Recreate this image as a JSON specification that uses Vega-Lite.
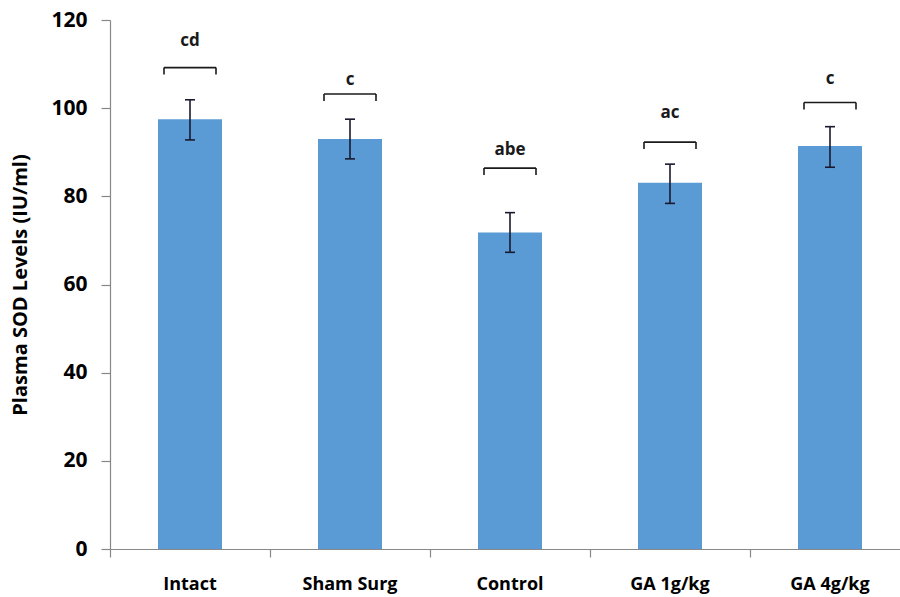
{
  "$schema": "https://vega.github.io/schema/vega-lite/v6.json",
  "width": 800,
  "height": 529,
  "autosize": "none",
  "padding": {"left": 110, "top": 20, "right": -10, "bottom": 48},
  "background": "white",
  "config": {"view": {"stroke": null}, "font": "Open Sans"},
  "data": {"values": [
    {"group": "Intact", "mean": 97.5, "lo": 92.8, "hi": 101.9, "bracket": 109.2, "label": "cd", "labelY": 115.3},
    {"group": "Sham Surg", "mean": 93.0, "lo": 88.5, "hi": 97.5, "bracket": 103.2, "label": "c", "labelY": 106.4},
    {"group": "Control", "mean": 71.8, "lo": 67.3, "hi": 76.3, "bracket": 86.4, "label": "abe", "labelY": 90.5},
    {"group": "GA 1g/kg", "mean": 83.1, "lo": 78.4, "hi": 87.3, "bracket": 92.3, "label": "ac", "labelY": 99.0},
    {"group": "GA 4g/kg", "mean": 91.4, "lo": 86.6, "hi": 95.8, "bracket": 101.3, "label": "c", "labelY": 106.6}
  ]},
  "encoding": {
    "x": {
      "field": "group", "type": "nominal", "sort": null,
      "scale": {"paddingInner": 0, "paddingOuter": 0},
      "axis": {
        "title": null, "labelAngle": 0, "bandPosition": 0,
        "labelFont": "Open Sans", "labelFontWeight": "bold", "labelFontSize": 18, "labelColor": "#000",
        "labelPadding": 18, "tickSize": 8, "tickColor": "#888", "domainColor": "#888", "domainWidth": 1.2, "tickWidth": 1.2
      }
    }
  },
  "layer": [
    {
      "mark": {"type": "bar", "color": "#5B9BD5", "width": {"band": 0.4}},
      "encoding": {
        "y": {
          "field": "mean", "type": "quantitative",
          "scale": {"domain": [0, 120], "nice": false},
          "axis": {
            "title": "Plasma SOD Levels (IU/ml)", "values": [0, 20, 40, 60, 80, 100, 120],
            "grid": false, "tickSize": 9, "tickColor": "#888", "domainColor": "#888", "domainWidth": 1.2, "tickWidth": 1.2,
            "labelFont": "Open Sans", "labelFontWeight": "bold", "labelFontSize": 21, "labelColor": "#000", "labelPadding": 14,
            "titleFont": "Open Sans", "titleFontWeight": "bold", "titleFontSize": 20, "titleColor": "#000", "titlePadding": 20
          }
        }
      }
    },
    {
      "mark": {"type": "rule", "color": "#1a1a2e", "strokeWidth": 1.6},
      "encoding": {"y": {"field": "lo", "type": "quantitative"}, "y2": {"field": "hi"}}
    },
    {
      "mark": {"type": "rule", "color": "#1a1a2e", "strokeWidth": 1.6, "xOffset": -5, "x2Offset": 5},
      "encoding": {"x2": {"field": "group"}, "y": {"field": "lo", "type": "quantitative"}}
    },
    {
      "mark": {"type": "rule", "color": "#1a1a2e", "strokeWidth": 1.6, "xOffset": -5, "x2Offset": 5},
      "encoding": {"x2": {"field": "group"}, "y": {"field": "hi", "type": "quantitative"}}
    },
    {
      "mark": {"type": "rule", "color": "#1a1a1a", "strokeWidth": 1.6, "xOffset": -26, "x2Offset": 26},
      "encoding": {"x2": {"field": "group"}, "y": {"field": "bracket", "type": "quantitative"}}
    },
    {
      "mark": {"type": "rule", "color": "#1a1a1a", "strokeWidth": 1.6, "xOffset": -26, "y2Offset": 7},
      "encoding": {"y": {"field": "bracket", "type": "quantitative"}, "y2": {"field": "bracket"}}
    },
    {
      "mark": {"type": "rule", "color": "#1a1a1a", "strokeWidth": 1.6, "xOffset": 26, "y2Offset": 7},
      "encoding": {"y": {"field": "bracket", "type": "quantitative"}, "y2": {"field": "bracket"}}
    },
    {
      "mark": {"type": "text", "font": "Open Sans", "fontWeight": "bold", "fontSize": 17, "color": "#1a1a1a", "baseline": "middle"},
      "encoding": {"y": {"field": "labelY", "type": "quantitative"}, "text": {"field": "label"}}
    }
  ]
}
